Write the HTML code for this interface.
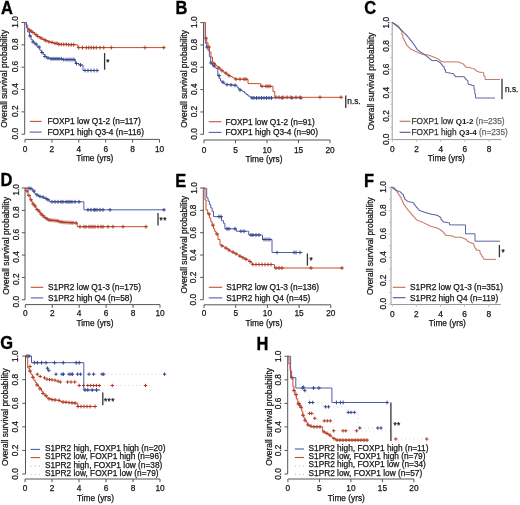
<!DOCTYPE html><html><head><meta charset="utf-8"><style>
html,body{margin:0;padding:0;background:#fff;}
svg{display:block;filter:blur(0.3px);font-family:"Liberation Sans",sans-serif;}
</style></head><body>
<svg width="520" height="505" viewBox="0 0 520 505">
<rect width="520" height="505" fill="#fff"/>
<line x1="24.7" y1="22.5" x2="24.7" y2="134.2" stroke="#555" stroke-width="1" /><line x1="21.5" y1="134.2" x2="24.7" y2="134.2" stroke="#555" stroke-width="1" /><text x="17.9" y="133.6" font-size="8.3" font-weight="400" text-anchor="middle" fill="#151515" stroke="#151515" stroke-width="0.25" transform="rotate(-90 17.9 133.6)" >0.0</text><line x1="21.5" y1="111.85999999999999" x2="24.7" y2="111.85999999999999" stroke="#555" stroke-width="1" /><text x="17.9" y="111.25999999999999" font-size="8.3" font-weight="400" text-anchor="middle" fill="#151515" stroke="#151515" stroke-width="0.25" transform="rotate(-90 17.9 111.25999999999999)" >0.2</text><line x1="21.5" y1="89.51999999999998" x2="24.7" y2="89.51999999999998" stroke="#555" stroke-width="1" /><text x="17.9" y="88.91999999999999" font-size="8.3" font-weight="400" text-anchor="middle" fill="#151515" stroke="#151515" stroke-width="0.25" transform="rotate(-90 17.9 88.91999999999999)" >0.4</text><line x1="21.5" y1="67.17999999999999" x2="24.7" y2="67.17999999999999" stroke="#555" stroke-width="1" /><text x="17.9" y="66.58" font-size="8.3" font-weight="400" text-anchor="middle" fill="#151515" stroke="#151515" stroke-width="0.25" transform="rotate(-90 17.9 66.58)" >0.6</text><line x1="21.5" y1="44.83999999999999" x2="24.7" y2="44.83999999999999" stroke="#555" stroke-width="1" /><text x="17.9" y="44.23999999999999" font-size="8.3" font-weight="400" text-anchor="middle" fill="#151515" stroke="#151515" stroke-width="0.25" transform="rotate(-90 17.9 44.23999999999999)" >0.8</text><line x1="21.5" y1="22.5" x2="24.7" y2="22.5" stroke="#555" stroke-width="1" /><text x="17.9" y="21.9" font-size="8.3" font-weight="400" text-anchor="middle" fill="#151515" stroke="#151515" stroke-width="0.25" transform="rotate(-90 17.9 21.9)" >1.0</text><text x="7.4" y="78.8" font-size="8.39" font-weight="400" text-anchor="middle" fill="#151515" stroke="#151515" stroke-width="0.25" transform="rotate(-90 7.4 78.8)" >Overall survival probability</text><line x1="25" y1="139.4" x2="159.5" y2="139.4" stroke="#555" stroke-width="1" /><line x1="25.0" y1="139.4" x2="25.0" y2="142.6" stroke="#555" stroke-width="1" /><text x="25.0" y="152.3" font-size="8.3" font-weight="400" text-anchor="middle" fill="#151515" stroke="#151515" stroke-width="0.25" >0</text><line x1="51.9" y1="139.4" x2="51.9" y2="142.6" stroke="#555" stroke-width="1" /><text x="51.9" y="152.3" font-size="8.3" font-weight="400" text-anchor="middle" fill="#151515" stroke="#151515" stroke-width="0.25" >2</text><line x1="78.8" y1="139.4" x2="78.8" y2="142.6" stroke="#555" stroke-width="1" /><text x="78.8" y="152.3" font-size="8.3" font-weight="400" text-anchor="middle" fill="#151515" stroke="#151515" stroke-width="0.25" >4</text><line x1="105.69999999999999" y1="139.4" x2="105.69999999999999" y2="142.6" stroke="#555" stroke-width="1" /><text x="105.69999999999999" y="152.3" font-size="8.3" font-weight="400" text-anchor="middle" fill="#151515" stroke="#151515" stroke-width="0.25" >6</text><line x1="132.6" y1="139.4" x2="132.6" y2="142.6" stroke="#555" stroke-width="1" /><text x="132.6" y="152.3" font-size="8.3" font-weight="400" text-anchor="middle" fill="#151515" stroke="#151515" stroke-width="0.25" >8</text><line x1="159.5" y1="139.4" x2="159.5" y2="142.6" stroke="#555" stroke-width="1" /><text x="159.5" y="152.3" font-size="8.3" font-weight="400" text-anchor="middle" fill="#151515" stroke="#151515" stroke-width="0.25" >10</text><text x="94.8" y="161.20000000000002" font-size="8.3" font-weight="400" text-anchor="middle" fill="#151515" stroke="#151515" stroke-width="0.25" >Time (yrs)</text><text transform="translate(1.1 14.0) scale(0.94 1)" font-size="17.5" font-weight="700" fill="#000" stroke="#000" stroke-width="0.35">A</text><path d="M24.70 22.50H26.00V25.00H27.70V28.50H29.00V30.00H30.30V31.10H32.00V32.50H34.60V34.60H37.00V36.50H39.80V38.00H42.00V39.50H45.00V40.70H48.00V41.80H50.20V42.40H54.00V43.40H58.80V44.40H68.00V44.70H76.10V44.90H77.90V47.60H165.00V47.60" fill="none" stroke="#cf4b2c" stroke-width="1"/><path d="M29.00 28.10V31.90M27.10 30.00H30.90M31.00 29.20V33.00M29.10 31.10H32.90M33.00 30.60V34.40M31.10 32.50H34.90M36.00 32.70V36.50M34.10 34.60H37.90M38.00 34.60V38.40M36.10 36.50H39.90M41.00 36.10V39.90M39.10 38.00H42.90M44.00 37.60V41.40M42.10 39.50H45.90M46.00 38.80V42.60M44.10 40.70H47.90M49.00 39.90V43.70M47.10 41.80H50.90M52.00 40.50V44.30M50.10 42.40H53.90M55.00 41.50V45.30M53.10 43.40H56.90M57.00 41.50V45.30M55.10 43.40H58.90M59.00 42.50V46.30M57.10 44.40H60.90M61.25 42.50V46.30M59.35 44.40H63.15M63.75 42.50V46.30M61.85 44.40H65.65M66.25 42.50V46.30M64.35 44.40H68.15M68.75 42.80V46.60M66.85 44.70H70.65M71.25 42.80V46.60M69.35 44.70H73.15M73.75 42.80V46.60M71.85 44.70H75.65M78.75 45.70V49.50M76.85 47.60H80.65M82.50 45.70V49.50M80.60 47.60H84.40M86.25 45.70V49.50M84.35 47.60H88.15M88.75 45.70V49.50M86.85 47.60H90.65M91.25 45.70V49.50M89.35 47.60H93.15M93.75 45.70V49.50M91.85 47.60H95.65M96.25 45.70V49.50M94.35 47.60H98.15M100.00 45.70V49.50M98.10 47.60H101.90M103.75 45.70V49.50M101.85 47.60H105.65M111.25 45.70V49.50M109.35 47.60H113.15M145.00 45.70V49.50M143.10 47.60H146.90M163.75 45.70V49.50M161.85 47.60H165.65" fill="none" stroke="#ac3a24" stroke-width="1"/><path d="M24.70 22.50H26.50V28.00H27.70V32.00H29.50V36.00H31.10V39.80H33.00V42.00H34.60V44.10H37.00V47.00H39.80V50.20H41.50V52.50H43.30V54.50H45.00V56.50H46.70V58.00H50.20V58.80H62.00V59.60H74.40V60.60H75.50V63.50H79.00V65.00H83.00V70.50H99.00V70.50" fill="none" stroke="#4a5fb0" stroke-width="1"/><path d="M30.00 34.10V37.90M28.10 36.00H31.90M33.00 40.10V43.90M31.10 42.00H34.90M36.00 42.20V46.00M34.10 44.10H37.90M39.00 45.10V48.90M37.10 47.00H40.90M42.00 50.60V54.40M40.10 52.50H43.90M45.00 54.60V58.40M43.10 56.50H46.90M48.00 56.10V59.90M46.10 58.00H49.90M51.00 56.90V60.70M49.10 58.80H52.90M53.00 56.90V60.70M51.10 58.80H54.90M55.00 56.90V60.70M53.10 58.80H56.90M57.00 56.90V60.70M55.10 58.80H58.90M59.00 56.90V60.70M57.10 58.80H60.90M61.25 56.90V60.70M59.35 58.80H63.15M63.75 57.70V61.50M61.85 59.60H65.65M66.00 57.70V61.50M64.10 59.60H67.90M68.00 57.70V61.50M66.10 59.60H69.90M70.00 57.70V61.50M68.10 59.60H71.90M72.00 57.70V61.50M70.10 59.60H73.90M74.00 57.70V61.50M72.10 59.60H75.90M76.50 61.60V65.40M74.60 63.50H78.40M80.50 63.10V66.90M78.60 65.00H82.40M85.00 68.60V72.40M83.10 70.50H86.90M88.00 68.60V72.40M86.10 70.50H89.90M91.00 68.60V72.40M89.10 70.50H92.90M94.00 68.60V72.40M92.10 70.50H95.90M97.00 68.60V72.40M95.10 70.50H98.90" fill="none" stroke="#34468c" stroke-width="1"/><line x1="104.6" y1="53.1" x2="104.6" y2="69.7" stroke="#333" stroke-width="1.3" /><text x="106.3" y="65.3" font-size="8.3" font-weight="400" text-anchor="start" fill="#151515" stroke="#151515" stroke-width="0.25" >*</text><line x1="29.8" y1="121.4" x2="41.6" y2="121.4" stroke="#cf4b2c" stroke-width="1.1"/><text x="47.5" y="124.3" font-size="8.3" font-weight="400" text-anchor="start" fill="#151515" stroke="#151515" stroke-width="0.25" >FOXP1 low Q1-2 (n=117)</text><line x1="29.8" y1="132.1" x2="41.6" y2="132.1" stroke="#4a5fb0" stroke-width="1.1"/><text x="47.5" y="134.8" font-size="8.3" font-weight="400" text-anchor="start" fill="#151515" stroke="#151515" stroke-width="0.25" >FOXP1 high Q3-4 (n=116)</text><line x1="203.5" y1="22.6" x2="203.5" y2="134.3" stroke="#555" stroke-width="1" /><line x1="200.3" y1="134.3" x2="203.5" y2="134.3" stroke="#555" stroke-width="1" /><text x="196.7" y="133.9" font-size="8.3" font-weight="400" text-anchor="middle" fill="#151515" stroke="#151515" stroke-width="0.25" transform="rotate(-90 196.7 133.9)" >0.0</text><line x1="200.3" y1="111.96000000000001" x2="203.5" y2="111.96000000000001" stroke="#555" stroke-width="1" /><text x="196.7" y="111.56" font-size="8.3" font-weight="400" text-anchor="middle" fill="#151515" stroke="#151515" stroke-width="0.25" transform="rotate(-90 196.7 111.56)" >0.2</text><line x1="200.3" y1="89.62" x2="203.5" y2="89.62" stroke="#555" stroke-width="1" /><text x="196.7" y="89.22" font-size="8.3" font-weight="400" text-anchor="middle" fill="#151515" stroke="#151515" stroke-width="0.25" transform="rotate(-90 196.7 89.22)" >0.4</text><line x1="200.3" y1="67.28" x2="203.5" y2="67.28" stroke="#555" stroke-width="1" /><text x="196.7" y="66.88" font-size="8.3" font-weight="400" text-anchor="middle" fill="#151515" stroke="#151515" stroke-width="0.25" transform="rotate(-90 196.7 66.88)" >0.6</text><line x1="200.3" y1="44.94" x2="203.5" y2="44.94" stroke="#555" stroke-width="1" /><text x="196.7" y="44.54" font-size="8.3" font-weight="400" text-anchor="middle" fill="#151515" stroke="#151515" stroke-width="0.25" transform="rotate(-90 196.7 44.54)" >0.8</text><line x1="200.3" y1="22.599999999999994" x2="203.5" y2="22.599999999999994" stroke="#555" stroke-width="1" /><text x="196.7" y="22.199999999999996" font-size="8.3" font-weight="400" text-anchor="middle" fill="#151515" stroke="#151515" stroke-width="0.25" transform="rotate(-90 196.7 22.199999999999996)" >1.0</text><text x="187" y="78.85000000000001" font-size="8.39" font-weight="400" text-anchor="middle" fill="#151515" stroke="#151515" stroke-width="0.25" transform="rotate(-90 187 78.85000000000001)" >Overall survival probability</text><line x1="204" y1="140" x2="330.0" y2="140" stroke="#555" stroke-width="1" /><line x1="204.0" y1="140" x2="204.0" y2="143.2" stroke="#555" stroke-width="1" /><text x="204.0" y="152.9" font-size="8.3" font-weight="400" text-anchor="middle" fill="#151515" stroke="#151515" stroke-width="0.25" >0</text><line x1="235.5" y1="140" x2="235.5" y2="143.2" stroke="#555" stroke-width="1" /><text x="235.5" y="152.9" font-size="8.3" font-weight="400" text-anchor="middle" fill="#151515" stroke="#151515" stroke-width="0.25" >5</text><line x1="267.0" y1="140" x2="267.0" y2="143.2" stroke="#555" stroke-width="1" /><text x="267.0" y="152.9" font-size="8.3" font-weight="400" text-anchor="middle" fill="#151515" stroke="#151515" stroke-width="0.25" >10</text><line x1="298.5" y1="140" x2="298.5" y2="143.2" stroke="#555" stroke-width="1" /><text x="298.5" y="152.9" font-size="8.3" font-weight="400" text-anchor="middle" fill="#151515" stroke="#151515" stroke-width="0.25" >15</text><line x1="330.0" y1="140" x2="330.0" y2="143.2" stroke="#555" stroke-width="1" /><text x="330.0" y="152.9" font-size="8.3" font-weight="400" text-anchor="middle" fill="#151515" stroke="#151515" stroke-width="0.25" >20</text><text x="264" y="161.8" font-size="8.3" font-weight="400" text-anchor="middle" fill="#151515" stroke="#151515" stroke-width="0.25" >Time (yrs)</text><text transform="translate(175.6 13.9) scale(0.94 1)" font-size="17.5" font-weight="700" fill="#000" stroke="#000" stroke-width="0.35">B</text><path d="M203.50 22.60H205.30V43.50H206.65V47.05H208.00V50.60H209.35V56.80H210.70V63.00H212.50V65.80H214.25V67.15H216.00V68.50H217.80V75.60H219.15V78.30H220.50V81.00H222.00V82.17H223.50V83.33H225.00V84.50H226.51V84.63H228.03V84.76H229.54V84.89H231.06V85.01H232.57V85.14H234.09V85.27H235.60V85.40H236.95V87.20H238.30V89.00H239.80V89.87H241.30V90.73H242.80V91.60H244.53V93.07H246.27V94.53H248.00V96.00H249.85V96.95H251.70V97.90H302.50V97.90" fill="none" stroke="#4a5fb0" stroke-width="1"/><path d="M207.00 45.15V48.95M205.10 47.05H208.90M211.00 61.10V64.90M209.10 63.00H212.90M214.00 63.90V67.70M212.10 65.80H215.90M219.00 73.70V77.50M217.10 75.60H220.90M223.00 80.27V84.07M221.10 82.17H224.90M227.00 82.73V86.53M225.10 84.63H228.90M231.00 82.99V86.79M229.10 84.89H232.90M235.00 83.37V87.17M233.10 85.27H236.90M240.00 87.97V91.77M238.10 89.87H241.90M252.00 96.00V99.80M250.10 97.90H253.90M254.00 96.00V99.80M252.10 97.90H255.90M256.50 96.00V99.80M254.60 97.90H258.40M259.00 96.00V99.80M257.10 97.90H260.90M261.50 96.00V99.80M259.60 97.90H263.40M264.00 96.00V99.80M262.10 97.90H265.90M266.50 96.00V99.80M264.60 97.90H268.40M269.00 96.00V99.80M267.10 97.90H270.90M271.50 96.00V99.80M269.60 97.90H273.40M282.00 96.00V99.80M280.10 97.90H283.90M292.00 96.00V99.80M290.10 97.90H293.90M301.00 96.00V99.80M299.10 97.90H302.90" fill="none" stroke="#34468c" stroke-width="1"/><path d="M203.50 22.60H205.30V38.20H206.65V42.60H208.00V47.00H209.50V52.07H211.00V57.13H212.50V62.20H214.00V63.70H215.50V65.20H217.00V66.70H218.50V68.03H220.00V69.35H221.50V70.67H223.00V72.00H224.83V73.20H226.67V74.40H228.50V75.60H230.28V76.50H232.05V77.40H233.82V78.30H235.60V79.20H247.00V79.20H248.00V83.60H259.70V83.60H260.60V86.30H271.00V86.30H273.00V91.60H274.80V97.30H342.50V97.30" fill="none" stroke="#cf4b2c" stroke-width="1"/><path d="M206.00 36.30V40.10M204.10 38.20H207.90M209.00 45.10V48.90M207.10 47.00H210.90M214.00 61.80V65.60M212.10 63.70H215.90M219.00 66.12V69.93M217.10 68.03H220.90M222.00 68.77V72.58M220.10 70.67H223.90M226.00 71.30V75.10M224.10 73.20H227.90M229.00 73.70V77.50M227.10 75.60H230.90M236.00 77.30V81.10M234.10 79.20H237.90M240.00 77.30V81.10M238.10 79.20H241.90M244.00 77.30V81.10M242.10 79.20H245.90M246.00 77.30V81.10M244.10 79.20H247.90M262.00 84.40V88.20M260.10 86.30H263.90M266.00 84.40V88.20M264.10 86.30H267.90M268.00 84.40V88.20M266.10 86.30H269.90M270.00 84.40V88.20M268.10 86.30H271.90M276.00 95.40V99.20M274.10 97.30H277.90M279.00 95.40V99.20M277.10 97.30H280.90M283.00 95.40V99.20M281.10 97.30H284.90M287.00 95.40V99.20M285.10 97.30H288.90M291.00 95.40V99.20M289.10 97.30H292.90M296.00 95.40V99.20M294.10 97.30H297.90M300.00 95.40V99.20M298.10 97.30H301.90M320.00 95.40V99.20M318.10 97.30H321.90M341.00 95.40V99.20M339.10 97.30H342.90" fill="none" stroke="#ac3a24" stroke-width="1"/><line x1="345.75" y1="95.5" x2="345.75" y2="108" stroke="#333" stroke-width="1.3" /><text x="347.3" y="104.2" font-size="8.3" font-weight="400" text-anchor="start" fill="#151515" stroke="#151515" stroke-width="0.25" >n.s.</text><line x1="208.75" y1="121.7" x2="221.5" y2="121.7" stroke="#cf4b2c" stroke-width="1.1"/><text x="225.5" y="124.5" font-size="8.3" font-weight="400" text-anchor="start" fill="#151515" stroke="#151515" stroke-width="0.25" >FOXP1 low Q1-2 (n=91)</text><line x1="208.75" y1="132.4" x2="221.5" y2="132.4" stroke="#4a5fb0" stroke-width="1.1"/><text x="225.5" y="135.1" font-size="8.3" font-weight="400" text-anchor="start" fill="#151515" stroke="#151515" stroke-width="0.25" >FOXP1 high Q3-4 (n=90)</text><line x1="392.2" y1="22.6" x2="392.2" y2="139.6" stroke="#9a9a9a" stroke-width="1" /><line x1="389.7" y1="139.3" x2="392.2" y2="139.3" stroke="#c4c4c4" stroke-width="1" /><text x="388.8" y="139.3" font-size="8.3" font-weight="400" text-anchor="middle" fill="#151515" stroke="#151515" stroke-width="0.25" transform="rotate(-90 388.8 139.3)" >0.0</text><line x1="389.7" y1="115.96000000000001" x2="392.2" y2="115.96000000000001" stroke="#c4c4c4" stroke-width="1" /><text x="388.8" y="115.96000000000001" font-size="8.3" font-weight="400" text-anchor="middle" fill="#151515" stroke="#151515" stroke-width="0.25" transform="rotate(-90 388.8 115.96000000000001)" >0.2</text><line x1="389.7" y1="92.62" x2="392.2" y2="92.62" stroke="#c4c4c4" stroke-width="1" /><text x="388.8" y="92.62" font-size="8.3" font-weight="400" text-anchor="middle" fill="#151515" stroke="#151515" stroke-width="0.25" transform="rotate(-90 388.8 92.62)" >0.4</text><line x1="389.7" y1="69.28" x2="392.2" y2="69.28" stroke="#c4c4c4" stroke-width="1" /><text x="388.8" y="69.28" font-size="8.3" font-weight="400" text-anchor="middle" fill="#151515" stroke="#151515" stroke-width="0.25" transform="rotate(-90 388.8 69.28)" >0.6</text><line x1="389.7" y1="45.94" x2="392.2" y2="45.94" stroke="#c4c4c4" stroke-width="1" /><text x="388.8" y="45.94" font-size="8.3" font-weight="400" text-anchor="middle" fill="#151515" stroke="#151515" stroke-width="0.25" transform="rotate(-90 388.8 45.94)" >0.8</text><line x1="389.7" y1="22.599999999999994" x2="392.2" y2="22.599999999999994" stroke="#c4c4c4" stroke-width="1" /><text x="388.8" y="22.599999999999994" font-size="8.3" font-weight="400" text-anchor="middle" fill="#151515" stroke="#151515" stroke-width="0.25" transform="rotate(-90 388.8 22.599999999999994)" >1.0</text><line x1="390.2" y1="127.63000000000001" x2="392.2" y2="127.63000000000001" stroke="#c4c4c4" stroke-width="1" /><line x1="390.2" y1="104.29" x2="392.2" y2="104.29" stroke="#c4c4c4" stroke-width="1" /><line x1="390.2" y1="80.95" x2="392.2" y2="80.95" stroke="#c4c4c4" stroke-width="1" /><line x1="390.2" y1="57.61" x2="392.2" y2="57.61" stroke="#c4c4c4" stroke-width="1" /><line x1="390.2" y1="34.269999999999996" x2="392.2" y2="34.269999999999996" stroke="#c4c4c4" stroke-width="1" /><text x="374.5" y="81.45" font-size="8.39" font-weight="400" text-anchor="middle" fill="#151515" stroke="#151515" stroke-width="0.25" transform="rotate(-90 374.5 81.45)" >Overall survival probability</text><line x1="392.2" y1="139.6" x2="501.2" y2="139.6" stroke="#9a9a9a" stroke-width="1" /><line x1="392.3" y1="139.6" x2="392.3" y2="142.1" stroke="#c4c4c4" stroke-width="1" /><text x="392.3" y="152.1" font-size="8.3" font-weight="400" text-anchor="middle" fill="#151515" stroke="#151515" stroke-width="0.25" >0</text><line x1="416.5" y1="139.6" x2="416.5" y2="142.1" stroke="#c4c4c4" stroke-width="1" /><text x="416.5" y="152.1" font-size="8.3" font-weight="400" text-anchor="middle" fill="#151515" stroke="#151515" stroke-width="0.25" >2</text><line x1="440.7" y1="139.6" x2="440.7" y2="142.1" stroke="#c4c4c4" stroke-width="1" /><text x="440.7" y="152.1" font-size="8.3" font-weight="400" text-anchor="middle" fill="#151515" stroke="#151515" stroke-width="0.25" >4</text><line x1="464.9" y1="139.6" x2="464.9" y2="142.1" stroke="#c4c4c4" stroke-width="1" /><text x="464.9" y="152.1" font-size="8.3" font-weight="400" text-anchor="middle" fill="#151515" stroke="#151515" stroke-width="0.25" >6</text><line x1="489.1" y1="139.6" x2="489.1" y2="142.1" stroke="#c4c4c4" stroke-width="1" /><text x="489.1" y="152.1" font-size="8.3" font-weight="400" text-anchor="middle" fill="#151515" stroke="#151515" stroke-width="0.25" >8</text><text x="446.3" y="161.2" font-size="8.3" font-weight="400" text-anchor="middle" fill="#151515" stroke="#151515" stroke-width="0.25" >Time (yrs)</text><text transform="translate(364.2 13.6) scale(0.94 1)" font-size="17.5" font-weight="700" fill="#000" stroke="#000" stroke-width="0.35">C</text><path d="M392.00 22.60H392.92V23.12H393.83V23.63H394.75V24.15H395.67V24.67H396.58V25.18H397.50V25.70H398.38V27.02H399.25V28.35H400.12V29.68H401.00V31.00H401.90V34.60H402.80V38.20H403.70V39.98H404.60V41.75H405.50V43.52H406.40V45.30H407.30V46.20H408.20V47.10H409.10V48.00H410.00V48.90H411.06V49.42H412.12V49.94H413.18V50.46H414.24V50.98H415.30V51.50H416.36V51.98H417.42V52.46H418.48V52.94H419.54V53.42H420.60V53.90H421.63V54.06H422.66V54.21H423.69V54.37H424.71V54.53H425.74V54.69H426.77V54.84H427.80V55.00H428.84V55.40H429.88V55.80H430.92V56.20H431.96V56.60H433.00V57.00H433.92V57.37H434.83V57.73H435.75V58.10H436.67V58.47H437.58V58.83H438.50V59.20H439.25V60.05H440.00V60.90H441.00V61.23H442.00V61.57H443.00V61.90H458.00V61.90H458.70V62.40H459.70V62.77H460.70V63.15H461.70V63.52H462.70V63.90H463.67V65.03H464.63V66.17H465.60V67.30H469.60V67.80H470.60V68.05H471.60V68.30H472.60V68.55H473.60V68.80H474.57V69.63H475.53V70.47H476.50V71.30H477.50V71.63H478.50V71.97H479.50V72.30H482.50V72.50H483.75V76.00H485.00V79.50H500.00V79.50" fill="none" stroke="#c46a52" stroke-width="0.9"/><path d="M392.00 22.60H393.04V23.43H394.09V24.26H395.13V25.09H396.17V25.91H397.21V26.74H398.26V27.57H399.30V28.40H400.18V29.30H401.05V30.20H401.93V31.10H402.80V32.00H403.70V32.88H404.60V33.75H405.50V34.62H406.40V35.50H407.30V36.62H408.20V37.75H409.10V38.88H410.00V40.00H410.88V41.10H411.75V42.20H412.62V43.30H413.50V44.40H414.38V45.75H415.25V47.10H416.12V48.45H417.00V49.80H417.90V50.45H418.80V51.10H419.70V51.75H420.60V52.40H421.68V53.12H422.76V53.84H423.84V54.56H424.92V55.28H426.00V56.00H427.06V56.90H428.12V57.80H429.18V58.70H430.24V59.60H431.30V60.50H437.00V60.90H438.00V61.57H439.00V62.23H440.00V62.90H441.00V64.20H442.00V65.50H443.00V66.80H444.25V69.55H445.50V72.30H446.44V72.49H447.38V72.67H448.31V72.86H449.25V73.05H450.19V73.24H451.12V73.42H452.06V73.61H453.00V73.80H454.00V75.25H455.00V76.70H464.00V77.20H465.00V78.70H466.00V79.70H467.00V80.70H468.00V84.20H469.00V84.48H470.00V84.76H471.00V85.04H472.00V85.32H473.00V85.60H474.00V89.60H474.75V93.80H475.50V98.00H495.00V98.00" fill="none" stroke="#4c5598" stroke-width="0.9"/><line x1="502" y1="78.75" x2="502" y2="99.25" stroke="#333" stroke-width="1.3" /><text x="505" y="92" font-size="8.3" font-weight="400" text-anchor="start" fill="#151515" stroke="#151515" stroke-width="0.25" >n.s.</text><line x1="399.6" y1="121.3" x2="410.5" y2="121.3" stroke="#c46a52" stroke-width="1.1"/><text x="411.4" y="124.3" font-size="8.3" font-weight="400" text-anchor="start" fill="#151515" stroke="#151515" stroke-width="0.25" ><tspan fill="#333" stroke="#333">FOXP1 low </tspan><tspan font-weight="700" font-size="8.0" stroke-width="0">Q1-2</tspan> <tspan fill="#666" stroke="#666">(n=235)</tspan></text><line x1="399.6" y1="132.3" x2="410.5" y2="132.3" stroke="#4c5598" stroke-width="1.1"/><text x="411.4" y="135.3" font-size="8.3" font-weight="400" text-anchor="start" fill="#151515" stroke="#151515" stroke-width="0.25" ><tspan fill="#333" stroke="#333">FOXP1 high </tspan><tspan font-weight="700" font-size="8.0" stroke-width="0">Q3-4</tspan> <tspan fill="#666" stroke="#666">(n=235)</tspan></text><line x1="25" y1="188" x2="25" y2="299.8" stroke="#555" stroke-width="1" /><line x1="21.8" y1="299.8" x2="25" y2="299.8" stroke="#555" stroke-width="1" /><text x="19.0" y="301.6" font-size="8.3" font-weight="400" text-anchor="middle" fill="#151515" stroke="#151515" stroke-width="0.25" transform="rotate(-90 19.0 301.6)" >0.0</text><line x1="21.8" y1="277.44" x2="25" y2="277.44" stroke="#555" stroke-width="1" /><text x="19.0" y="279.24" font-size="8.3" font-weight="400" text-anchor="middle" fill="#151515" stroke="#151515" stroke-width="0.25" transform="rotate(-90 19.0 279.24)" >0.2</text><line x1="21.8" y1="255.08" x2="25" y2="255.08" stroke="#555" stroke-width="1" /><text x="19.0" y="256.88" font-size="8.3" font-weight="400" text-anchor="middle" fill="#151515" stroke="#151515" stroke-width="0.25" transform="rotate(-90 19.0 256.88)" >0.4</text><line x1="21.8" y1="232.72000000000003" x2="25" y2="232.72000000000003" stroke="#555" stroke-width="1" /><text x="19.0" y="234.52000000000004" font-size="8.3" font-weight="400" text-anchor="middle" fill="#151515" stroke="#151515" stroke-width="0.25" transform="rotate(-90 19.0 234.52000000000004)" >0.6</text><line x1="21.8" y1="210.36" x2="25" y2="210.36" stroke="#555" stroke-width="1" /><text x="19.0" y="212.16000000000003" font-size="8.3" font-weight="400" text-anchor="middle" fill="#151515" stroke="#151515" stroke-width="0.25" transform="rotate(-90 19.0 212.16000000000003)" >0.8</text><line x1="21.8" y1="188.0" x2="25" y2="188.0" stroke="#555" stroke-width="1" /><text x="19.0" y="189.8" font-size="8.3" font-weight="400" text-anchor="middle" fill="#151515" stroke="#151515" stroke-width="0.25" transform="rotate(-90 19.0 189.8)" >1.0</text><text x="8.6" y="245.8" font-size="8.39" font-weight="400" text-anchor="middle" fill="#151515" stroke="#151515" stroke-width="0.25" transform="rotate(-90 8.6 245.8)" >Overall survival probability</text><line x1="25.3" y1="304.6" x2="160.00000000000003" y2="304.6" stroke="#555" stroke-width="1" /><line x1="25.3" y1="304.6" x2="25.3" y2="307.8" stroke="#555" stroke-width="1" /><text x="25.3" y="316.20000000000005" font-size="8.3" font-weight="400" text-anchor="middle" fill="#151515" stroke="#151515" stroke-width="0.25" >0</text><line x1="52.24" y1="304.6" x2="52.24" y2="307.8" stroke="#555" stroke-width="1" /><text x="52.24" y="316.20000000000005" font-size="8.3" font-weight="400" text-anchor="middle" fill="#151515" stroke="#151515" stroke-width="0.25" >2</text><line x1="79.18" y1="304.6" x2="79.18" y2="307.8" stroke="#555" stroke-width="1" /><text x="79.18" y="316.20000000000005" font-size="8.3" font-weight="400" text-anchor="middle" fill="#151515" stroke="#151515" stroke-width="0.25" >4</text><line x1="106.12" y1="304.6" x2="106.12" y2="307.8" stroke="#555" stroke-width="1" /><text x="106.12" y="316.20000000000005" font-size="8.3" font-weight="400" text-anchor="middle" fill="#151515" stroke="#151515" stroke-width="0.25" >6</text><line x1="133.06" y1="304.6" x2="133.06" y2="307.8" stroke="#555" stroke-width="1" /><text x="133.06" y="316.20000000000005" font-size="8.3" font-weight="400" text-anchor="middle" fill="#151515" stroke="#151515" stroke-width="0.25" >8</text><line x1="160.00000000000003" y1="304.6" x2="160.00000000000003" y2="307.8" stroke="#555" stroke-width="1" /><text x="160.00000000000003" y="316.20000000000005" font-size="8.3" font-weight="400" text-anchor="middle" fill="#151515" stroke="#151515" stroke-width="0.25" >10</text><text x="95" y="325.5" font-size="8.3" font-weight="400" text-anchor="middle" fill="#151515" stroke="#151515" stroke-width="0.25" >Time (yrs)</text><text transform="translate(0.5 186.4) scale(0.94 1)" font-size="17.5" font-weight="700" fill="#000" stroke="#000" stroke-width="0.35">D</text><path d="M25.00 188.00H28.00V188.30H29.70V188.65H31.40V189.00H32.75V191.05H34.10V193.10H35.47V194.00H36.83V194.90H38.20V195.80H39.97V196.47H41.73V197.13H43.50V197.80H44.87V198.47H46.23V199.13H47.60V199.80H49.60V201.80H83.90V201.80H83.90V209.80H165.00V209.80" fill="none" stroke="#4a5fb0" stroke-width="1"/><path d="M29.00 186.40V190.20M27.10 188.30H30.90M31.00 186.75V190.55M29.10 188.65H32.90M34.00 189.15V192.95M32.10 191.05H35.90M37.00 193.00V196.80M35.10 194.90H38.90M40.00 194.57V198.37M38.10 196.47H41.90M43.00 195.23V199.03M41.10 197.13H44.90M46.00 196.57V200.37M44.10 198.47H47.90M48.00 197.90V201.70M46.10 199.80H49.90M52.00 199.90V203.70M50.10 201.80H53.90M55.00 199.90V203.70M53.10 201.80H56.90M58.00 199.90V203.70M56.10 201.80H59.90M61.00 199.90V203.70M59.10 201.80H62.90M63.00 199.90V203.70M61.10 201.80H64.90M66.00 199.90V203.70M64.10 201.80H67.90M68.00 199.90V203.70M66.10 201.80H69.90M70.00 199.90V203.70M68.10 201.80H71.90M72.00 199.90V203.70M70.10 201.80H73.90M75.00 199.90V203.70M73.10 201.80H76.90M79.00 199.90V203.70M77.10 201.80H80.90M88.00 207.90V211.70M86.10 209.80H89.90M91.00 207.90V211.70M89.10 209.80H92.90M94.00 207.90V211.70M92.10 209.80H95.90M95.00 207.90V211.70M93.10 209.80H96.90M97.00 207.90V211.70M95.10 209.80H98.90M100.00 207.90V211.70M98.10 209.80H101.90M103.00 207.90V211.70M101.10 209.80H104.90M110.00 207.90V211.70M108.10 209.80H111.90M164.00 207.90V211.70M162.10 209.80H165.90" fill="none" stroke="#34468c" stroke-width="1"/><path d="M25.00 188.00H26.00V191.00H28.00V195.50H30.10V199.80H31.55V201.90H33.00V204.00H34.25V205.95H35.50V207.90H36.75V209.45H38.00V211.00H39.40V212.50H40.80V214.00H42.40V215.75H44.00V217.50H45.80V218.75H47.60V220.00H49.20V220.14H50.80V220.28H52.40V220.42H54.00V220.56H55.60V220.70H57.30V221.10H59.00V221.50H60.70V221.90H62.40V222.30H64.08V222.39H65.75V222.48H67.42V222.56H69.10V222.65H70.78V222.74H72.45V222.82H74.12V222.91H75.80V223.00H77.20V226.70H146.25V226.70" fill="none" stroke="#cf4b2c" stroke-width="1"/><path d="M27.00 189.10V192.90M25.10 191.00H28.90M29.00 193.60V197.40M27.10 195.50H30.90M31.00 197.90V201.70M29.10 199.80H32.90M33.00 202.10V205.90M31.10 204.00H34.90M35.00 204.05V207.85M33.10 205.95H36.90M37.00 207.55V211.35M35.10 209.45H38.90M39.00 209.10V212.90M37.10 211.00H40.90M41.00 212.10V215.90M39.10 214.00H42.90M43.00 213.85V217.65M41.10 215.75H44.90M45.00 215.60V219.40M43.10 217.50H46.90M47.00 216.85V220.65M45.10 218.75H48.90M49.00 218.10V221.90M47.10 220.00H50.90M51.00 218.38V222.18M49.10 220.28H52.90M53.00 218.52V222.32M51.10 220.42H54.90M55.00 218.66V222.46M53.10 220.56H56.90M57.00 218.80V222.60M55.10 220.70H58.90M59.00 219.60V223.40M57.10 221.50H60.90M61.00 220.00V223.80M59.10 221.90H62.90M63.00 220.40V224.20M61.10 222.30H64.90M65.00 220.49V224.29M63.10 222.39H66.90M67.00 220.58V224.38M65.10 222.48H68.90M69.00 220.66V224.46M67.10 222.56H70.90M71.00 220.84V224.64M69.10 222.74H72.90M73.00 220.92V224.72M71.10 222.82H74.90M76.00 221.10V224.90M74.10 223.00H77.90M80.00 224.80V228.60M78.10 226.70H81.90M84.00 224.80V228.60M82.10 226.70H85.90M86.00 224.80V228.60M84.10 226.70H87.90M89.00 224.80V228.60M87.10 226.70H90.90M91.00 224.80V228.60M89.10 226.70H92.90M93.00 224.80V228.60M91.10 226.70H94.90M95.00 224.80V228.60M93.10 226.70H96.90M98.00 224.80V228.60M96.10 226.70H99.90M101.00 224.80V228.60M99.10 226.70H102.90M103.00 224.80V228.60M101.10 226.70H104.90M108.00 224.80V228.60M106.10 226.70H109.90M113.00 224.80V228.60M111.10 226.70H114.90M123.00 224.80V228.60M121.10 226.70H124.90M146.00 224.80V228.60M144.10 226.70H147.90" fill="none" stroke="#ac3a24" stroke-width="1"/><line x1="158" y1="213" x2="158" y2="225.6" stroke="#333" stroke-width="1.3" /><text x="159.6" y="223.3" font-size="8.3" font-weight="400" text-anchor="start" fill="#151515" stroke="#151515" stroke-width="0.25" letter-spacing="0.4">**</text><line x1="30.8" y1="287.3" x2="43.3" y2="287.3" stroke="#cf4b2c" stroke-width="1.1"/><text x="48" y="290.3" font-size="8.3" font-weight="400" text-anchor="start" fill="#151515" stroke="#151515" stroke-width="0.25" >S1PR2 low Q1-3 (n=175)</text><line x1="30.8" y1="297.9" x2="43.3" y2="297.9" stroke="#4a5fb0" stroke-width="1.1"/><text x="48" y="300.9" font-size="8.3" font-weight="400" text-anchor="start" fill="#151515" stroke="#151515" stroke-width="0.25" >S1PR2 high Q4 (n=58)</text><line x1="203.3" y1="188" x2="203.3" y2="299.7" stroke="#555" stroke-width="1" /><line x1="200.10000000000002" y1="299.7" x2="203.3" y2="299.7" stroke="#555" stroke-width="1" /><text x="196.5" y="299.7" font-size="8.3" font-weight="400" text-anchor="middle" fill="#151515" stroke="#151515" stroke-width="0.25" transform="rotate(-90 196.5 299.7)" >0.0</text><line x1="200.10000000000002" y1="277.36" x2="203.3" y2="277.36" stroke="#555" stroke-width="1" /><text x="196.5" y="277.36" font-size="8.3" font-weight="400" text-anchor="middle" fill="#151515" stroke="#151515" stroke-width="0.25" transform="rotate(-90 196.5 277.36)" >0.2</text><line x1="200.10000000000002" y1="255.01999999999998" x2="203.3" y2="255.01999999999998" stroke="#555" stroke-width="1" /><text x="196.5" y="255.01999999999998" font-size="8.3" font-weight="400" text-anchor="middle" fill="#151515" stroke="#151515" stroke-width="0.25" transform="rotate(-90 196.5 255.01999999999998)" >0.4</text><line x1="200.10000000000002" y1="232.68" x2="203.3" y2="232.68" stroke="#555" stroke-width="1" /><text x="196.5" y="232.68" font-size="8.3" font-weight="400" text-anchor="middle" fill="#151515" stroke="#151515" stroke-width="0.25" transform="rotate(-90 196.5 232.68)" >0.6</text><line x1="200.10000000000002" y1="210.33999999999997" x2="203.3" y2="210.33999999999997" stroke="#555" stroke-width="1" /><text x="196.5" y="210.33999999999997" font-size="8.3" font-weight="400" text-anchor="middle" fill="#151515" stroke="#151515" stroke-width="0.25" transform="rotate(-90 196.5 210.33999999999997)" >0.8</text><line x1="200.10000000000002" y1="188.0" x2="203.3" y2="188.0" stroke="#555" stroke-width="1" /><text x="196.5" y="188.0" font-size="8.3" font-weight="400" text-anchor="middle" fill="#151515" stroke="#151515" stroke-width="0.25" transform="rotate(-90 196.5 188.0)" >1.0</text><text x="187" y="244.65" font-size="8.39" font-weight="400" text-anchor="middle" fill="#151515" stroke="#151515" stroke-width="0.25" transform="rotate(-90 187 244.65)" >Overall survival probability</text><line x1="204" y1="304.8" x2="330.8" y2="304.8" stroke="#555" stroke-width="1" /><line x1="204.0" y1="304.8" x2="204.0" y2="308.0" stroke="#555" stroke-width="1" /><text x="204.0" y="316.40000000000003" font-size="8.3" font-weight="400" text-anchor="middle" fill="#151515" stroke="#151515" stroke-width="0.25" >0</text><line x1="235.7" y1="304.8" x2="235.7" y2="308.0" stroke="#555" stroke-width="1" /><text x="235.7" y="316.40000000000003" font-size="8.3" font-weight="400" text-anchor="middle" fill="#151515" stroke="#151515" stroke-width="0.25" >5</text><line x1="267.4" y1="304.8" x2="267.4" y2="308.0" stroke="#555" stroke-width="1" /><text x="267.4" y="316.40000000000003" font-size="8.3" font-weight="400" text-anchor="middle" fill="#151515" stroke="#151515" stroke-width="0.25" >10</text><line x1="299.1" y1="304.8" x2="299.1" y2="308.0" stroke="#555" stroke-width="1" /><text x="299.1" y="316.40000000000003" font-size="8.3" font-weight="400" text-anchor="middle" fill="#151515" stroke="#151515" stroke-width="0.25" >15</text><line x1="330.8" y1="304.8" x2="330.8" y2="308.0" stroke="#555" stroke-width="1" /><text x="330.8" y="316.40000000000003" font-size="8.3" font-weight="400" text-anchor="middle" fill="#151515" stroke="#151515" stroke-width="0.25" >20</text><text x="264" y="325.7" font-size="8.3" font-weight="400" text-anchor="middle" fill="#151515" stroke="#151515" stroke-width="0.25" >Time (yrs)</text><text transform="translate(175.3 186.6) scale(0.94 1)" font-size="17.5" font-weight="700" fill="#000" stroke="#000" stroke-width="0.35">E</text><path d="M203.25 188.00H204.70V188.40H206.70V197.80H208.05V201.15H209.40V204.50H210.75V207.90H212.10V211.30H213.50V216.60H220.20V216.60H221.50V220.70H223.60V223.40H224.90V228.80H235.70V228.80H236.30V231.25H247.50V231.25H248.75V235.00H261.25V235.00H262.50V239.50H271.25V239.50H272.00V252.50H302.50V252.50" fill="none" stroke="#4a5fb0" stroke-width="1"/><path d="M219.00 214.70V218.50M217.10 216.60H220.90M221.00 214.70V218.50M219.10 216.60H222.90M227.00 226.90V230.70M225.10 228.80H228.90M229.00 226.90V230.70M227.10 228.80H230.90M235.00 226.90V230.70M233.10 228.80H236.90M241.00 229.35V233.15M239.10 231.25H242.90M244.00 229.35V233.15M242.10 231.25H245.90M251.00 233.10V236.90M249.10 235.00H252.90M253.00 233.10V236.90M251.10 235.00H254.90M256.00 233.10V236.90M254.10 235.00H257.90M259.00 233.10V236.90M257.10 235.00H260.90M264.00 237.60V241.40M262.10 239.50H265.90M266.00 237.60V241.40M264.10 239.50H267.90M268.00 237.60V241.40M266.10 239.50H269.90M270.00 237.60V241.40M268.10 239.50H271.90M277.00 250.60V254.40M275.10 252.50H278.90M294.00 250.60V254.40M292.10 252.50H295.90M296.00 250.60V254.40M294.10 252.50H297.90M300.00 250.60V254.40M298.10 252.50H301.90" fill="none" stroke="#34468c" stroke-width="1"/><path d="M203.25 188.00H205.00V200.00H206.00V209.90H207.70V213.95H209.40V218.00H210.77V221.60H212.13V225.20H213.50V228.80H214.75V231.40H216.00V234.00H218.00V239.50H220.00V245.00H221.50V245.80H223.00V246.60H224.50V247.40H226.00V248.20H227.50V249.00H228.75V250.12H230.00V251.25H231.67V252.08H233.33V252.92H235.00V253.75H236.67V254.58H238.33V255.42H240.00V256.25H241.50V257.00H243.00V257.75H244.50V258.50H246.00V259.25H247.50V260.00H249.17V261.50H250.83V263.00H252.50V264.50H273.75V264.50H274.50V268.00H342.50V268.00" fill="none" stroke="#cf4b2c" stroke-width="1"/><path d="M209.00 212.05V215.85M207.10 213.95H210.90M213.00 223.30V227.10M211.10 225.20H214.90M217.00 232.10V235.90M215.10 234.00H218.90M222.00 243.90V247.70M220.10 245.80H223.90M226.00 246.30V250.10M224.10 248.20H227.90M229.00 248.22V252.03M227.10 250.12H230.90M233.00 250.18V253.98M231.10 252.08H234.90M236.00 251.85V255.65M234.10 253.75H237.90M240.00 254.35V258.15M238.10 256.25H241.90M243.00 255.85V259.65M241.10 257.75H244.90M246.00 257.35V261.15M244.10 259.25H247.90M250.00 259.60V263.40M248.10 261.50H251.90M253.00 262.60V266.40M251.10 264.50H254.90M256.00 262.60V266.40M254.10 264.50H257.90M259.00 262.60V266.40M257.10 264.50H260.90M262.00 262.60V266.40M260.10 264.50H263.90M265.00 262.60V266.40M263.10 264.50H266.90M268.00 262.60V266.40M266.10 264.50H269.90M271.00 262.60V266.40M269.10 264.50H272.90M276.00 266.10V269.90M274.10 268.00H277.90M279.00 266.10V269.90M277.10 268.00H280.90M282.00 266.10V269.90M280.10 268.00H283.90M311.00 266.10V269.90M309.10 268.00H312.90M342.00 266.10V269.90M340.10 268.00H343.90" fill="none" stroke="#ac3a24" stroke-width="1"/><line x1="307.4" y1="253.5" x2="307.4" y2="265.6" stroke="#333" stroke-width="1.3" /><text x="309.6" y="262.7" font-size="8.3" font-weight="400" text-anchor="start" fill="#151515" stroke="#151515" stroke-width="0.25" >*</text><line x1="208.75" y1="287.3" x2="222.2" y2="287.3" stroke="#cf4b2c" stroke-width="1.1"/><text x="226.2" y="290.3" font-size="8.3" font-weight="400" text-anchor="start" fill="#151515" stroke="#151515" stroke-width="0.25" >S1PR2 low Q1-3 (n=136)</text><line x1="208.75" y1="297.9" x2="222.2" y2="297.9" stroke="#4a5fb0" stroke-width="1.1"/><text x="226.2" y="300.9" font-size="8.3" font-weight="400" text-anchor="start" fill="#151515" stroke="#151515" stroke-width="0.25" >S1PR2 high Q4 (n=45)</text><line x1="391" y1="187.5" x2="391" y2="304.5" stroke="#9a9a9a" stroke-width="1" /><line x1="388.5" y1="304.2" x2="391" y2="304.2" stroke="#c4c4c4" stroke-width="1" /><text x="385.6" y="303.59999999999997" font-size="8.3" font-weight="400" text-anchor="middle" fill="#151515" stroke="#151515" stroke-width="0.25" transform="rotate(-90 385.6 303.59999999999997)" >0.0</text><line x1="388.5" y1="280.86" x2="391" y2="280.86" stroke="#c4c4c4" stroke-width="1" /><text x="385.6" y="280.26" font-size="8.3" font-weight="400" text-anchor="middle" fill="#151515" stroke="#151515" stroke-width="0.25" transform="rotate(-90 385.6 280.26)" >0.2</text><line x1="388.5" y1="257.52" x2="391" y2="257.52" stroke="#c4c4c4" stroke-width="1" /><text x="385.6" y="256.91999999999996" font-size="8.3" font-weight="400" text-anchor="middle" fill="#151515" stroke="#151515" stroke-width="0.25" transform="rotate(-90 385.6 256.91999999999996)" >0.4</text><line x1="388.5" y1="234.18" x2="391" y2="234.18" stroke="#c4c4c4" stroke-width="1" /><text x="385.6" y="233.58" font-size="8.3" font-weight="400" text-anchor="middle" fill="#151515" stroke="#151515" stroke-width="0.25" transform="rotate(-90 385.6 233.58)" >0.6</text><line x1="388.5" y1="210.83999999999997" x2="391" y2="210.83999999999997" stroke="#c4c4c4" stroke-width="1" /><text x="385.6" y="210.23999999999998" font-size="8.3" font-weight="400" text-anchor="middle" fill="#151515" stroke="#151515" stroke-width="0.25" transform="rotate(-90 385.6 210.23999999999998)" >0.8</text><line x1="388.5" y1="187.5" x2="391" y2="187.5" stroke="#c4c4c4" stroke-width="1" /><text x="385.6" y="186.9" font-size="8.3" font-weight="400" text-anchor="middle" fill="#151515" stroke="#151515" stroke-width="0.25" transform="rotate(-90 385.6 186.9)" >1.0</text><line x1="389" y1="292.53" x2="391" y2="292.53" stroke="#c4c4c4" stroke-width="1" /><line x1="389" y1="269.19" x2="391" y2="269.19" stroke="#c4c4c4" stroke-width="1" /><line x1="389" y1="245.85" x2="391" y2="245.85" stroke="#c4c4c4" stroke-width="1" /><line x1="389" y1="222.51" x2="391" y2="222.51" stroke="#c4c4c4" stroke-width="1" /><line x1="389" y1="199.17000000000002" x2="391" y2="199.17000000000002" stroke="#c4c4c4" stroke-width="1" /><text x="372.9" y="246.15" font-size="8.39" font-weight="400" text-anchor="middle" fill="#151515" stroke="#151515" stroke-width="0.25" transform="rotate(-90 372.9 246.15)" >Overall survival probability</text><line x1="391" y1="304.5" x2="500.79" y2="304.5" stroke="#9a9a9a" stroke-width="1" /><line x1="392.25" y1="304.5" x2="392.25" y2="307.0" stroke="#c4c4c4" stroke-width="1" /><text x="392.25" y="316.5" font-size="8.3" font-weight="400" text-anchor="middle" fill="#151515" stroke="#151515" stroke-width="0.25" >0</text><line x1="416.37" y1="304.5" x2="416.37" y2="307.0" stroke="#c4c4c4" stroke-width="1" /><text x="416.37" y="316.5" font-size="8.3" font-weight="400" text-anchor="middle" fill="#151515" stroke="#151515" stroke-width="0.25" >2</text><line x1="440.49" y1="304.5" x2="440.49" y2="307.0" stroke="#c4c4c4" stroke-width="1" /><text x="440.49" y="316.5" font-size="8.3" font-weight="400" text-anchor="middle" fill="#151515" stroke="#151515" stroke-width="0.25" >4</text><line x1="464.61" y1="304.5" x2="464.61" y2="307.0" stroke="#c4c4c4" stroke-width="1" /><text x="464.61" y="316.5" font-size="8.3" font-weight="400" text-anchor="middle" fill="#151515" stroke="#151515" stroke-width="0.25" >6</text><line x1="488.73" y1="304.5" x2="488.73" y2="307.0" stroke="#c4c4c4" stroke-width="1" /><text x="488.73" y="316.5" font-size="8.3" font-weight="400" text-anchor="middle" fill="#151515" stroke="#151515" stroke-width="0.25" >8</text><text x="447.3" y="326.1" font-size="8.3" font-weight="400" text-anchor="middle" fill="#151515" stroke="#151515" stroke-width="0.25" >Time (yrs)</text><text transform="translate(364.0 186.5) scale(0.94 1)" font-size="17.5" font-weight="700" fill="#000" stroke="#000" stroke-width="0.35">F</text><path d="M391.20 187.30H393.80V187.90H394.87V189.40H395.93V190.90H397.00V192.40H398.07V194.10H399.13V195.80H400.20V197.50H401.30V199.87H402.40V202.23H403.50V204.60H404.45V205.88H405.40V207.15H406.35V208.42H407.30V209.70H408.27V210.85H409.25V212.00H410.23V213.15H411.20V214.30H412.22V215.44H413.24V216.58H414.26V217.72H415.28V218.86H416.30V220.00H417.34V220.40H418.38V220.80H419.42V221.20H420.46V221.60H421.50V222.00H422.52V222.50H423.54V223.00H424.56V223.50H425.58V224.00H426.60V224.50H427.73V225.10H428.87V225.70H430.00V226.30H431.00V226.55H432.00V226.80H433.00V227.05H434.00V227.30H435.00V227.55H436.00V227.80H437.00V228.30H438.00V228.80H439.00V229.30H440.00V229.80H441.00V230.63H442.00V231.47H443.00V232.30H444.00V233.75H445.00V235.20H446.00V235.31H447.00V235.43H448.00V235.54H449.00V235.66H450.00V235.77H451.00V235.89H452.00V236.00H453.00V236.60H454.00V237.20H460.00V237.20H461.00V237.53H462.00V237.87H463.00V238.20H464.00V238.70H465.00V239.20H466.00V239.70H467.00V241.20H468.00V241.70H469.00V242.20H470.00V242.70H471.00V243.03H472.00V243.37H473.00V243.70H474.00V246.60H475.00V248.35H476.00V250.10H479.00V250.60H480.00V253.60H480.94V255.05H481.88V256.50H482.81V257.95H483.75V259.40H496.00V259.40" fill="none" stroke="#c46a52" stroke-width="0.9"/><path d="M391.20 187.30H392.32V188.08H393.45V188.85H394.57V189.62H395.70V190.40H396.68V190.72H397.65V191.05H398.62V191.38H399.60V191.70H400.47V192.57H401.33V193.43H402.20V194.30H403.45V196.90H404.70V199.50H405.57V200.13H406.43V200.77H407.30V201.40H408.34V201.66H409.38V201.92H410.42V202.18H411.46V202.44H412.50V202.70H413.75V204.30H415.00V205.90H415.98V207.03H416.95V208.15H417.92V209.28H418.90V210.40H419.92V210.78H420.94V211.16H421.96V211.54H422.98V211.92H424.00V212.30H425.00V212.58H426.00V212.87H427.00V213.15H428.00V213.43H429.00V213.72H430.00V214.00H431.00V214.20H432.00V214.40H433.00V214.60H434.00V214.80H435.00V215.00H436.00V215.20H437.00V215.40H438.00V216.07H439.00V216.73H440.00V217.40H441.00V219.90H442.00V220.90H443.00V221.90H444.00V222.07H445.00V222.23H446.00V222.40H447.00V222.57H448.00V222.73H449.00V222.90H449.50V224.90H465.00V224.90H465.50V233.80H474.00V233.80H475.00V241.20H500.00V241.20" fill="none" stroke="#4c5598" stroke-width="0.9"/><line x1="499.4" y1="245" x2="499.4" y2="257.2" stroke="#333" stroke-width="1.3" /><text x="501.6" y="255.3" font-size="8.3" font-weight="400" text-anchor="start" fill="#151515" stroke="#151515" stroke-width="0.25" >*</text><line x1="392.8" y1="287.3" x2="405.5" y2="287.3" stroke="#c46a52" stroke-width="1.1"/><text x="410" y="290.3" font-size="8.3" font-weight="400" text-anchor="start" fill="#151515" stroke="#151515" stroke-width="0.25" >S1PR2 low Q1-3 (n=351)</text><line x1="392.8" y1="297.7" x2="405.5" y2="297.7" stroke="#4c5598" stroke-width="1.1"/><text x="410" y="300.7" font-size="8.3" font-weight="400" text-anchor="start" fill="#151515" stroke="#151515" stroke-width="0.25" >S1PR2 high Q4 (n=119)</text><line x1="25.5" y1="356.1" x2="25.5" y2="474" stroke="#555" stroke-width="1" /><line x1="22.3" y1="474.0" x2="25.5" y2="474.0" stroke="#555" stroke-width="1" /><text x="18.2" y="474.0" font-size="8.3" font-weight="400" text-anchor="middle" fill="#151515" stroke="#151515" stroke-width="0.25" transform="rotate(-90 18.2 474.0)" >0.0</text><line x1="22.3" y1="450.42" x2="25.5" y2="450.42" stroke="#555" stroke-width="1" /><text x="18.2" y="450.42" font-size="8.3" font-weight="400" text-anchor="middle" fill="#151515" stroke="#151515" stroke-width="0.25" transform="rotate(-90 18.2 450.42)" >0.2</text><line x1="22.3" y1="426.84000000000003" x2="25.5" y2="426.84000000000003" stroke="#555" stroke-width="1" /><text x="18.2" y="426.84000000000003" font-size="8.3" font-weight="400" text-anchor="middle" fill="#151515" stroke="#151515" stroke-width="0.25" transform="rotate(-90 18.2 426.84000000000003)" >0.4</text><line x1="22.3" y1="403.26" x2="25.5" y2="403.26" stroke="#555" stroke-width="1" /><text x="18.2" y="403.26" font-size="8.3" font-weight="400" text-anchor="middle" fill="#151515" stroke="#151515" stroke-width="0.25" transform="rotate(-90 18.2 403.26)" >0.6</text><line x1="22.3" y1="379.68" x2="25.5" y2="379.68" stroke="#555" stroke-width="1" /><text x="18.2" y="379.68" font-size="8.3" font-weight="400" text-anchor="middle" fill="#151515" stroke="#151515" stroke-width="0.25" transform="rotate(-90 18.2 379.68)" >0.8</text><line x1="22.3" y1="356.1" x2="25.5" y2="356.1" stroke="#555" stroke-width="1" /><text x="18.2" y="356.1" font-size="8.3" font-weight="400" text-anchor="middle" fill="#151515" stroke="#151515" stroke-width="0.25" transform="rotate(-90 18.2 356.1)" >1.0</text><text x="8.4" y="417.25" font-size="8.39" font-weight="400" text-anchor="middle" fill="#151515" stroke="#151515" stroke-width="0.25" transform="rotate(-90 8.4 417.25)" >Overall survival probability</text><line x1="25" y1="479" x2="160.0" y2="479" stroke="#555" stroke-width="1" /><line x1="25.0" y1="479" x2="25.0" y2="482.2" stroke="#555" stroke-width="1" /><text x="25.0" y="491.0" font-size="8.3" font-weight="400" text-anchor="middle" fill="#151515" stroke="#151515" stroke-width="0.25" >0</text><line x1="52.0" y1="479" x2="52.0" y2="482.2" stroke="#555" stroke-width="1" /><text x="52.0" y="491.0" font-size="8.3" font-weight="400" text-anchor="middle" fill="#151515" stroke="#151515" stroke-width="0.25" >2</text><line x1="79.0" y1="479" x2="79.0" y2="482.2" stroke="#555" stroke-width="1" /><text x="79.0" y="491.0" font-size="8.3" font-weight="400" text-anchor="middle" fill="#151515" stroke="#151515" stroke-width="0.25" >4</text><line x1="106.0" y1="479" x2="106.0" y2="482.2" stroke="#555" stroke-width="1" /><text x="106.0" y="491.0" font-size="8.3" font-weight="400" text-anchor="middle" fill="#151515" stroke="#151515" stroke-width="0.25" >6</text><line x1="133.0" y1="479" x2="133.0" y2="482.2" stroke="#555" stroke-width="1" /><text x="133.0" y="491.0" font-size="8.3" font-weight="400" text-anchor="middle" fill="#151515" stroke="#151515" stroke-width="0.25" >8</text><line x1="160.0" y1="479" x2="160.0" y2="482.2" stroke="#555" stroke-width="1" /><text x="160.0" y="491.0" font-size="8.3" font-weight="400" text-anchor="middle" fill="#151515" stroke="#151515" stroke-width="0.25" >10</text><text x="95.5" y="501.3" font-size="8.3" font-weight="400" text-anchor="middle" fill="#151515" stroke="#151515" stroke-width="0.25" >Time (yrs)</text><text transform="translate(0.3 349.2) scale(0.94 1)" font-size="17.5" font-weight="700" fill="#000" stroke="#000" stroke-width="0.35">G</text><path d="M25.50 356.10H27.08V357.08H28.67V358.07H30.25V359.05H31.83V360.03H33.42V361.02H35.00V362.00H36.67V362.67H38.33V363.33H40.00V364.00H41.67V364.67H43.33V365.33H45.00V366.00H46.35V368.20H47.70V370.40H50.00V374.20H165.00V374.20" fill="none" stroke="#4a5fb0" stroke-width="0.8" stroke-dasharray="1,3" stroke-opacity="0.35"/><path d="M47.40 366.50V369.90M45.70 368.20H49.10M48.80 368.70V372.10M47.10 370.40H50.50M56.00 372.50V375.90M54.30 374.20H57.70M62.00 372.50V375.90M60.30 374.20H63.70M63.50 372.50V375.90M61.80 374.20H65.20M69.00 372.50V375.90M67.30 374.20H70.70M71.00 372.50V375.90M69.30 374.20H72.70M72.50 372.50V375.90M70.80 374.20H74.20M77.70 372.50V375.90M76.00 374.20H79.40M80.60 372.50V375.90M78.90 374.20H82.30M89.00 372.50V375.90M87.30 374.20H90.70M93.60 372.50V375.90M91.90 374.20H95.30M102.00 372.50V375.90M100.30 374.20H103.70M103.70 372.50V375.90M102.00 374.20H105.40M164.50 372.50V375.90M162.80 374.20H166.20" fill="none" stroke="#34468c" stroke-width="1"/><path d="M25.50 356.10H27.35V361.30H29.20V366.50H30.73V368.33H32.27V370.17H33.80V372.00H35.35V373.12H36.90V374.25H38.45V375.38H40.00V376.50H41.55V377.18H43.10V377.85H44.65V378.52H46.20V379.20H47.73V379.40H49.27V379.60H50.80V379.80H52.33V380.00H53.87V380.20H55.40V380.40H56.95V381.20H58.50V382.00H75.40V382.00H76.95V383.75H78.50V385.50H146.25V385.50" fill="none" stroke="#cf4b2c" stroke-width="0.8" stroke-dasharray="1,3" stroke-opacity="0.35"/><path d="M30.00 364.80V368.20M28.30 366.50H31.70M37.30 372.55V375.95M35.60 374.25H39.00M40.20 374.80V378.20M38.50 376.50H41.90M44.50 376.15V379.55M42.80 377.85H46.20M47.00 377.50V380.90M45.30 379.20H48.70M49.50 377.90V381.30M47.80 379.60H51.20M52.00 378.10V381.50M50.30 379.80H53.70M55.00 378.50V381.90M53.30 380.20H56.70M58.00 379.50V382.90M56.30 381.20H59.70M60.40 380.30V383.70M58.70 382.00H62.10M67.60 380.30V383.70M65.90 382.00H69.30M71.00 380.30V383.70M69.30 382.00H72.70M74.80 380.30V383.70M73.10 382.00H76.50M79.20 383.80V387.20M77.50 385.50H80.90M83.50 383.80V387.20M81.80 385.50H85.20M87.80 383.80V387.20M86.10 385.50H89.50M90.70 383.80V387.20M89.00 385.50H92.40M93.60 383.80V387.20M91.90 385.50H95.30M96.40 383.80V387.20M94.70 385.50H98.10M99.30 383.80V387.20M97.60 385.50H101.00M112.30 383.80V387.20M110.60 385.50H114.00M145.50 383.80V387.20M143.80 385.50H147.20" fill="none" stroke="#ac3a24" stroke-width="1"/><path d="M25.50 356.10H31.50V356.10H31.50V362.70H83.80V362.70H83.80V390.00H100.00V390.00" fill="none" stroke="#4a5fb0" stroke-width="1"/><path d="M27.00 354.20V358.00M25.10 356.10H28.90M29.00 354.20V358.00M27.10 356.10H30.90M34.40 360.80V364.60M32.50 362.70H36.30M37.30 360.80V364.60M35.40 362.70H39.20M41.60 360.80V364.60M39.70 362.70H43.50M46.00 360.80V364.60M44.10 362.70H47.90M54.60 360.80V364.60M52.70 362.70H56.50M63.30 360.80V364.60M61.40 362.70H65.20M76.20 360.80V364.60M74.30 362.70H78.10M79.20 360.80V364.60M77.30 362.70H81.10M85.00 388.10V391.90M83.10 390.00H86.90M87.80 388.10V391.90M85.90 390.00H89.70M92.20 388.10V391.90M90.30 390.00H94.10M96.50 388.10V391.90M94.60 390.00H98.40" fill="none" stroke="#34468c" stroke-width="1"/><path d="M25.50 356.10H27.70V368.00H29.25V371.10H30.80V374.20H32.30V377.30H33.80V380.40H35.35V382.70H36.90V385.00H38.45V386.90H40.00V388.80H41.50V391.15H43.00V393.50H44.95V395.75H46.90V398.00H48.85V398.80H50.80V399.60H52.34V399.76H53.88V399.92H55.42V400.08H56.96V400.24H58.50V400.40H60.00V401.20H61.50V402.00H63.04V402.13H64.59V402.27H66.13V402.40H67.68V402.53H69.22V402.67H70.77V402.80H72.31V402.93H73.86V403.07H75.40V403.20H77.70V406.50H95.40V406.50" fill="none" stroke="#cf4b2c" stroke-width="1"/><path d="M30.00 369.20V373.00M28.10 371.10H31.90M33.00 375.40V379.20M31.10 377.30H34.90M37.00 383.10V386.90M35.10 385.00H38.90M40.00 386.90V390.70M38.10 388.80H41.90M43.00 391.60V395.40M41.10 393.50H44.90M46.00 393.85V397.65M44.10 395.75H47.90M49.00 396.90V400.70M47.10 398.80H50.90M52.00 397.70V401.50M50.10 399.60H53.90M55.00 398.02V401.82M53.10 399.92H56.90M59.00 398.50V402.30M57.10 400.40H60.90M63.00 400.10V403.90M61.10 402.00H64.90M66.00 400.37V404.17M64.10 402.27H67.90M69.00 400.63V404.43M67.10 402.53H70.90M72.00 400.90V404.70M70.10 402.80H73.90M75.00 401.17V404.97M73.10 403.07H76.90M78.00 404.60V408.40M76.10 406.50H79.90M81.00 404.60V408.40M79.10 406.50H82.90M84.00 404.60V408.40M82.10 406.50H85.90M87.00 404.60V408.40M85.10 406.50H88.90M90.00 404.60V408.40M88.10 406.50H91.90M95.00 404.60V408.40M93.10 406.50H96.90" fill="none" stroke="#ac3a24" stroke-width="1"/><line x1="102.8" y1="392.5" x2="102.8" y2="405.2" stroke="#333" stroke-width="1.3" /><text x="104.1" y="403.6" font-size="8.3" font-weight="400" text-anchor="start" fill="#151515" stroke="#151515" stroke-width="0.25" letter-spacing="0.3">***</text><line x1="30.6" y1="449.4" x2="40.1" y2="449.4" stroke="#4a5fb0" stroke-width="1.1"/><text x="44.9" y="450.8" font-size="8.3" font-weight="400" text-anchor="start" fill="#151515" stroke="#151515" stroke-width="0.25" >S1PR2 high, FOXP1 high (n=20)</text><line x1="30.6" y1="457.6" x2="40.1" y2="457.6" stroke="#cf4b2c" stroke-width="1.1"/><text x="44.9" y="459.1" font-size="8.3" font-weight="400" text-anchor="start" fill="#151515" stroke="#151515" stroke-width="0.25" >S1PR2 low, FOXP1 high (n=96)</text><line x1="30.6" y1="466" x2="40.1" y2="466" stroke="#a8acc8" stroke-width="1.1" stroke-dasharray="1,3.2"/><text x="44.9" y="467.5" font-size="8.3" font-weight="400" text-anchor="start" fill="#151515" stroke="#151515" stroke-width="0.25" >S1PR2 high, FOXP1 low (n=38)</text><line x1="30.6" y1="474.5" x2="40.1" y2="474.5" stroke="#d8b8a8" stroke-width="1.1" stroke-dasharray="1,3.2"/><text x="44.9" y="475.8" font-size="8.3" font-weight="400" text-anchor="start" fill="#151515" stroke="#151515" stroke-width="0.25" >S1PR2 low, FOXP1 low (n=79)</text><line x1="287.7" y1="356.3" x2="287.7" y2="474" stroke="#555" stroke-width="1" /><line x1="284.5" y1="474.0" x2="287.7" y2="474.0" stroke="#555" stroke-width="1" /><text x="280.9" y="474.0" font-size="8.3" font-weight="400" text-anchor="middle" fill="#151515" stroke="#151515" stroke-width="0.25" transform="rotate(-90 280.9 474.0)" >0.0</text><line x1="284.5" y1="450.46" x2="287.7" y2="450.46" stroke="#555" stroke-width="1" /><text x="280.9" y="450.46" font-size="8.3" font-weight="400" text-anchor="middle" fill="#151515" stroke="#151515" stroke-width="0.25" transform="rotate(-90 280.9 450.46)" >0.2</text><line x1="284.5" y1="426.92" x2="287.7" y2="426.92" stroke="#555" stroke-width="1" /><text x="280.9" y="426.92" font-size="8.3" font-weight="400" text-anchor="middle" fill="#151515" stroke="#151515" stroke-width="0.25" transform="rotate(-90 280.9 426.92)" >0.4</text><line x1="284.5" y1="403.38" x2="287.7" y2="403.38" stroke="#555" stroke-width="1" /><text x="280.9" y="403.38" font-size="8.3" font-weight="400" text-anchor="middle" fill="#151515" stroke="#151515" stroke-width="0.25" transform="rotate(-90 280.9 403.38)" >0.6</text><line x1="284.5" y1="379.84000000000003" x2="287.7" y2="379.84000000000003" stroke="#555" stroke-width="1" /><text x="280.9" y="379.84000000000003" font-size="8.3" font-weight="400" text-anchor="middle" fill="#151515" stroke="#151515" stroke-width="0.25" transform="rotate(-90 280.9 379.84000000000003)" >0.8</text><line x1="284.5" y1="356.3" x2="287.7" y2="356.3" stroke="#555" stroke-width="1" /><text x="280.9" y="356.3" font-size="8.3" font-weight="400" text-anchor="middle" fill="#151515" stroke="#151515" stroke-width="0.25" transform="rotate(-90 280.9 356.3)" >1.0</text><text x="271.7" y="416.95" font-size="8.39" font-weight="400" text-anchor="middle" fill="#151515" stroke="#151515" stroke-width="0.25" transform="rotate(-90 271.7 416.95)" >Overall survival probability</text><line x1="287.9" y1="479" x2="413.9" y2="479" stroke="#555" stroke-width="1" /><line x1="287.9" y1="479" x2="287.9" y2="482.2" stroke="#555" stroke-width="1" /><text x="287.9" y="491.0" font-size="8.3" font-weight="400" text-anchor="middle" fill="#151515" stroke="#151515" stroke-width="0.25" >0</text><line x1="319.4" y1="479" x2="319.4" y2="482.2" stroke="#555" stroke-width="1" /><text x="319.4" y="491.0" font-size="8.3" font-weight="400" text-anchor="middle" fill="#151515" stroke="#151515" stroke-width="0.25" >5</text><line x1="350.9" y1="479" x2="350.9" y2="482.2" stroke="#555" stroke-width="1" /><text x="350.9" y="491.0" font-size="8.3" font-weight="400" text-anchor="middle" fill="#151515" stroke="#151515" stroke-width="0.25" >10</text><line x1="382.4" y1="479" x2="382.4" y2="482.2" stroke="#555" stroke-width="1" /><text x="382.4" y="491.0" font-size="8.3" font-weight="400" text-anchor="middle" fill="#151515" stroke="#151515" stroke-width="0.25" >15</text><line x1="413.9" y1="479" x2="413.9" y2="482.2" stroke="#555" stroke-width="1" /><text x="413.9" y="491.0" font-size="8.3" font-weight="400" text-anchor="middle" fill="#151515" stroke="#151515" stroke-width="0.25" >20</text><text x="346.3" y="501.3" font-size="8.3" font-weight="400" text-anchor="middle" fill="#151515" stroke="#151515" stroke-width="0.25" >Time (yrs)</text><text transform="translate(256.6 349.9) scale(0.94 1)" font-size="17.5" font-weight="700" fill="#000" stroke="#000" stroke-width="0.35">H</text><path d="M287.70 356.30H289.50V367.80H290.88V370.35H292.25V372.90H293.62V375.45H295.00V378.00H296.67V380.33H298.33V382.67H300.00V385.00H301.70V386.10H303.40V387.20H304.80V390.60H306.40V393.30H308.00V396.00H309.70V402.50H320.00V402.50H321.50V404.65H323.00V406.80H345.00V406.80H347.00V412.40H356.00V412.40H358.00V428.00H381.00V428.00" fill="none" stroke="#4a5fb0" stroke-width="0.8" stroke-dasharray="1,3" stroke-opacity="0.35"/><path d="M303.40 385.50V388.90M301.70 387.20H305.10M304.80 388.90V392.30M303.10 390.60H306.50M309.70 400.80V404.20M308.00 402.50H311.40M312.70 400.80V404.20M311.00 402.50H314.40M325.50 405.10V408.50M323.80 406.80H327.20M328.50 405.10V408.50M326.80 406.80H330.20M348.30 410.70V414.10M346.60 412.40H350.00M351.00 410.70V414.10M349.30 412.40H352.70M354.30 410.70V414.10M352.60 412.40H356.00M359.80 426.30V429.70M358.10 428.00H361.50M377.80 426.30V429.70M376.10 428.00H379.50M381.00 426.30V429.70M379.30 428.00H382.70" fill="none" stroke="#34468c" stroke-width="1"/><path d="M287.70 356.30H288.85V363.15H290.00V370.00H291.50V377.50H293.00V385.00H294.50V391.50H296.00V398.00H298.20V403.90H299.47V405.27H300.73V406.63H302.00V408.00H303.67V409.80H305.33V411.60H307.00V413.40H313.00V413.40H314.00V418.30H315.50V418.95H317.00V419.60H318.50V420.25H320.00V420.90H332.00V420.90H333.00V430.80H390.00V430.80H392.00V439.00H427.00V439.00" fill="none" stroke="#cf4b2c" stroke-width="0.8" stroke-dasharray="1,3" stroke-opacity="0.35"/><path d="M298.20 402.20V405.60M296.50 403.90H299.90M299.80 403.57V406.97M298.10 405.27H301.50M309.50 411.70V415.10M307.80 413.40H311.20M311.70 411.70V415.10M310.00 413.40H313.40M314.80 416.60V420.00M313.10 418.30H316.50M324.30 419.20V422.60M322.60 420.90H326.00M327.30 419.20V422.60M325.60 420.90H329.00M330.30 419.20V422.60M328.60 420.90H332.00M333.70 429.10V432.50M332.00 430.80H335.40M343.00 429.10V432.50M341.30 430.80H344.70M345.80 429.10V432.50M344.10 430.80H347.50M356.60 429.10V432.50M354.90 430.80H358.30M395.80 437.30V440.70M394.10 439.00H397.50M426.80 437.30V440.70M425.10 439.00H428.50" fill="none" stroke="#ac3a24" stroke-width="1"/><path d="M287.70 356.30H290.60V356.30H290.60V377.70H295.80V377.70H295.80V388.00H331.90V388.00H331.90V402.50H387.60V402.50" fill="none" stroke="#4a5fb0" stroke-width="1"/><path d="M302.70 386.10V389.90M300.80 388.00H304.60M313.50 386.10V389.90M311.60 388.00H315.40M318.90 386.10V389.90M317.00 388.00H320.80M336.40 400.60V404.40M334.50 402.50H338.30M340.40 400.60V404.40M338.50 402.50H342.30M343.10 400.60V404.40M341.20 402.50H345.00M387.00 400.60V404.40M385.10 402.50H388.90" fill="none" stroke="#34468c" stroke-width="1"/><path d="M287.70 356.30H288.90V363.90H290.20V370.80H291.50V377.70H292.90V386.60H293.90V390.60H294.90V394.60H296.35V399.05H297.80V403.50H299.30V405.45H300.80V407.40H301.80V411.35H302.80V415.30H303.80V417.80H304.80V420.30H306.25V422.60H307.70V424.90H309.03V425.53H310.37V426.17H311.70V426.80H321.60V426.80H322.60V431.20H323.83V431.95H325.05V432.70H326.27V433.45H327.50V434.20H328.83V435.17H330.17V436.13H331.50V437.10H332.73V437.85H333.95V438.60H335.17V439.35H336.40V440.10H367.40V440.10" fill="none" stroke="#cf4b2c" stroke-width="1"/><path d="M292.00 375.80V379.60M290.10 377.70H293.90M294.00 388.70V392.50M292.10 390.60H295.90M296.00 392.70V396.50M294.10 394.60H297.90M299.00 401.60V405.40M297.10 403.50H300.90M301.00 405.50V409.30M299.10 407.40H302.90M303.00 413.40V417.20M301.10 415.30H304.90M305.00 418.40V422.20M303.10 420.30H306.90M308.00 423.00V426.80M306.10 424.90H309.90M311.00 424.27V428.07M309.10 426.17H312.90M314.00 424.90V428.70M312.10 426.80H315.90M317.00 424.90V428.70M315.10 426.80H318.90M320.00 424.90V428.70M318.10 426.80H321.90M324.00 430.05V433.85M322.10 431.95H325.90M327.00 431.55V435.35M325.10 433.45H328.90M330.00 433.27V437.07M328.10 435.17H331.90M334.00 436.70V440.50M332.10 438.60H335.90M337.00 438.20V442.00M335.10 440.10H338.90M340.00 438.20V442.00M338.10 440.10H341.90M343.00 438.20V442.00M341.10 440.10H344.90M346.00 438.20V442.00M344.10 440.10H347.90M349.00 438.20V442.00M347.10 440.10H350.90M352.00 438.20V442.00M350.10 440.10H353.90M355.00 438.20V442.00M353.10 440.10H356.90M358.00 438.20V442.00M356.10 440.10H359.90M361.00 438.20V442.00M359.10 440.10H362.90M364.00 438.20V442.00M362.10 440.10H365.90M367.00 438.20V442.00M365.10 440.10H368.90" fill="none" stroke="#ac3a24" stroke-width="1"/><line x1="390.9" y1="402.4" x2="390.9" y2="441" stroke="#333" stroke-width="1.3" /><text x="393.6" y="427.7" font-size="8.3" font-weight="400" text-anchor="start" fill="#151515" stroke="#151515" stroke-width="0.25" letter-spacing="0.3">**</text><line x1="294.8" y1="449" x2="304" y2="449" stroke="#4a5fb0" stroke-width="1.1"/><text x="308.5" y="450.5" font-size="8.3" font-weight="400" text-anchor="start" fill="#151515" stroke="#151515" stroke-width="0.25" >S1PR2 high, FOXP1 high (n=11)</text><line x1="294.8" y1="457.5" x2="304" y2="457.5" stroke="#cf4b2c" stroke-width="1.1"/><text x="308.5" y="458.7" font-size="8.3" font-weight="400" text-anchor="start" fill="#151515" stroke="#151515" stroke-width="0.25" >S1PR2 low, FOXP1 high (n=79)</text><line x1="294.8" y1="466" x2="304" y2="466" stroke="#a8acc8" stroke-width="1.1" stroke-dasharray="1,3.2"/><text x="308.5" y="467.2" font-size="8.3" font-weight="400" text-anchor="start" fill="#151515" stroke="#151515" stroke-width="0.25" >S1PR2 high, FOXP1 low (n=34)</text><line x1="294.8" y1="474.4" x2="304" y2="474.4" stroke="#d8b8a8" stroke-width="1.1" stroke-dasharray="1,3.2"/><text x="308.5" y="475.8" font-size="8.3" font-weight="400" text-anchor="start" fill="#151515" stroke="#151515" stroke-width="0.25" >S1PR2 low, FOXP1 low (n=57)</text></svg></body></html>
